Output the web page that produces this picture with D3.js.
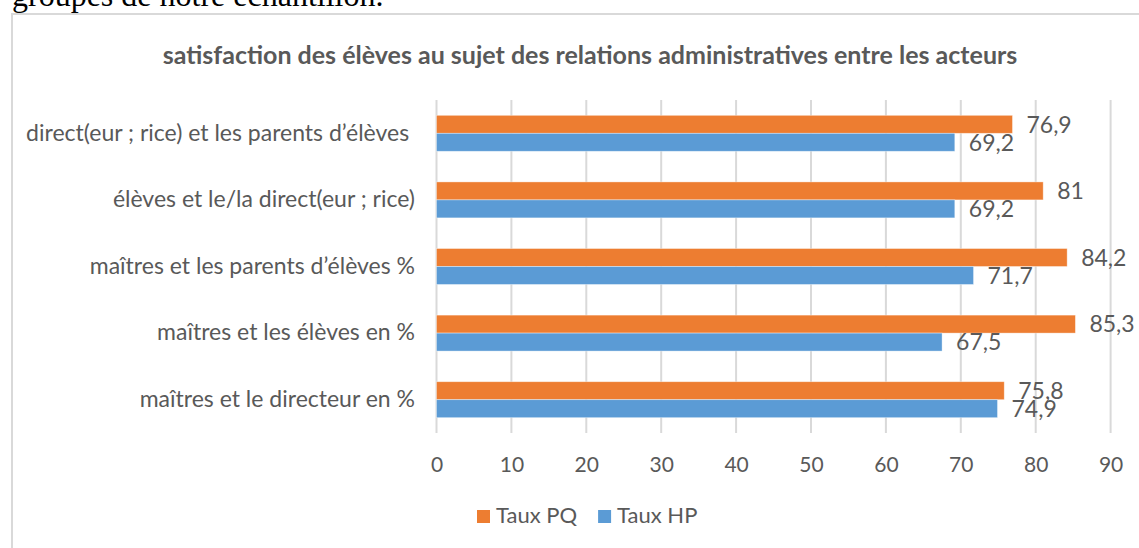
<!DOCTYPE html>
<html>
<head>
<meta charset="utf-8">
<script src="https://cdn.jsdelivr.net/npm/d3@7"></script>
<style>
  html, body { margin: 0; padding: 0; background: #fff; overflow: hidden; }
  svg { display: block; }
  text { font-family: Lato, "Open Sans", sans-serif; fill: #595959; }
</style>
</head>
<body>
<div id="chart"></div>
<script>
(function () {
  "use strict";

  const categories = [
    "direct(eur ; rice) et les parents d\u2019élèves ",
    "élèves et le/la direct(eur ; rice)",
    "maîtres et les parents d\u2019élèves %",
    "maîtres et les élèves en %",
    "maîtres et le directeur en %"
  ];
  const seriesNames = ["Taux PQ", "Taux HP"];
  const tauxPQ = [76.9, 81, 84.2, 85.3, 75.8];
  const tauxHP = [69.2, 69.2, 71.7, 67.5, 74.9];
  const xTicks = [0, 10, 20, 30, 40, 50, 60, 70, 80, 90];
  const colors = { "Taux PQ": "#ED7D31", "Taux HP": "#5B9BD5" };

  const W = 1139, H = 548;
  const plot = { left: 436.5, right: 1110.6, top: 100, bottom: 433 };

  const svg = d3.select("#chart").append("svg")
    .attr("width", W).attr("height", H)
    .attr("viewBox", `0 0 ${W} ${H}`);

  // text of the document above the chart (cut off at the top)
  svg.append("text")
    .attr("x", 12).attr("y", 6)
    .style("font-family", "'Liberation Serif', 'Times New Roman', serif")
    .style("fill", "#000")
    .style("font-size", "32px")
    .text("groupes de notre échantillon.");

  // chart frame
  svg.append("rect")
    .attr("x", 12).attr("y", 14)
    .attr("width", W + 20).attr("height", H + 20)
    .attr("fill", "#fff")
    .attr("stroke", "#d9d9d9")
    .attr("stroke-width", 2);

  svg.append("text")
    .attr("x", 590).attr("y", 64)
    .attr("text-anchor", "middle")
    .style("font-weight", "bold")
    .style("font-size", "25px")
    .text("satisfaction des élèves au sujet des relations administratives entre les acteurs");

  const x = d3.scaleLinear().domain([0, 90]).range([plot.left, plot.right]);
  const y = d3.scaleBand().domain(categories)
    .range([plot.top, plot.bottom])
    .paddingInner(0.46).paddingOuter(0.23);
  const ySub = d3.scaleBand().domain(seriesNames).range([0, y.bandwidth()]);

  // gridlines
  svg.append("g")
    .selectAll("line")
    .data(xTicks)
    .join("line")
    .attr("x1", d => x(d)).attr("x2", d => x(d))
    .attr("y1", plot.top).attr("y2", plot.bottom)
    .attr("stroke", "#d9d9d9")
    .attr("stroke-width", 2);

  // x axis labels
  const xAxis = d3.axisBottom(x).tickValues(xTicks).tickSize(0).tickPadding(0);
  const gx = svg.append("g")
    .attr("transform", `translate(0,${plot.bottom})`)
    .call(xAxis);
  gx.select(".domain").remove();
  gx.selectAll("text")
    .attr("y", 39).attr("dy", null)
    .style("font-size", "21px")
    .style("fill", "#595959")
    .style("font-family", "Lato, sans-serif");

  // y axis labels
  const yAxis = d3.axisLeft(y).tickSize(0).tickPadding(0);
  const gy = svg.append("g")
    .attr("transform", `translate(415,0)`)
    .call(yAxis);
  gy.select(".domain").remove();
  gy.selectAll("text")
    .attr("dy", "0.32em")
    .style("white-space", "pre")
    .style("font-size", "23px")
    .style("fill", "#595959")
    .style("font-family", "Lato, sans-serif");

  const rows = categories.map((c, i) => ({
    cat: c,
    values: [
      { name: "Taux PQ", value: tauxPQ[i] },
      { name: "Taux HP", value: tauxHP[i] }
    ]
  }));

  const fmt = v => String(v).replace(".", ",");

  const groups = svg.append("g")
    .selectAll("g")
    .data(rows)
    .join("g")
    .attr("transform", d => `translate(0,${y(d.cat)})`);

  groups.selectAll("rect")
    .data(d => d.values)
    .join("rect")
    .attr("x", x(0))
    .attr("y", d => ySub(d.name))
    .attr("width", d => x(d.value) - x(0))
    .attr("height", ySub.bandwidth())
    .attr("fill", d => colors[d.name])
    .attr("stroke", "#fff")
    .attr("stroke-opacity", 0.5)
    .attr("stroke-width", 0.75);

  groups.selectAll("text")
    .data(d => d.values)
    .join("text")
    .attr("x", d => x(d.value) + 14)
    .attr("y", d => ySub(d.name) + ySub.bandwidth() / 2)
    .attr("dy", "0.36em")
    .style("font-size", "23px")
    .text(d => fmt(d.value));

  // legend
  const legend = svg.append("g").attr("transform", "translate(477,510)");
  let lx = 0;
  seriesNames.forEach(name => {
    const item = legend.append("g").attr("transform", `translate(${lx},0)`);
    item.append("rect")
      .attr("width", 13).attr("height", 13)
      .attr("fill", colors[name]);
    const t = item.append("text")
      .attr("x", 19).attr("y", 13)
      .style("font-size", "22px")
      .text(name);
    lx += 19 + t.node().getComputedTextLength() + 21;
  });
})();
</script>
</body>
</html>
